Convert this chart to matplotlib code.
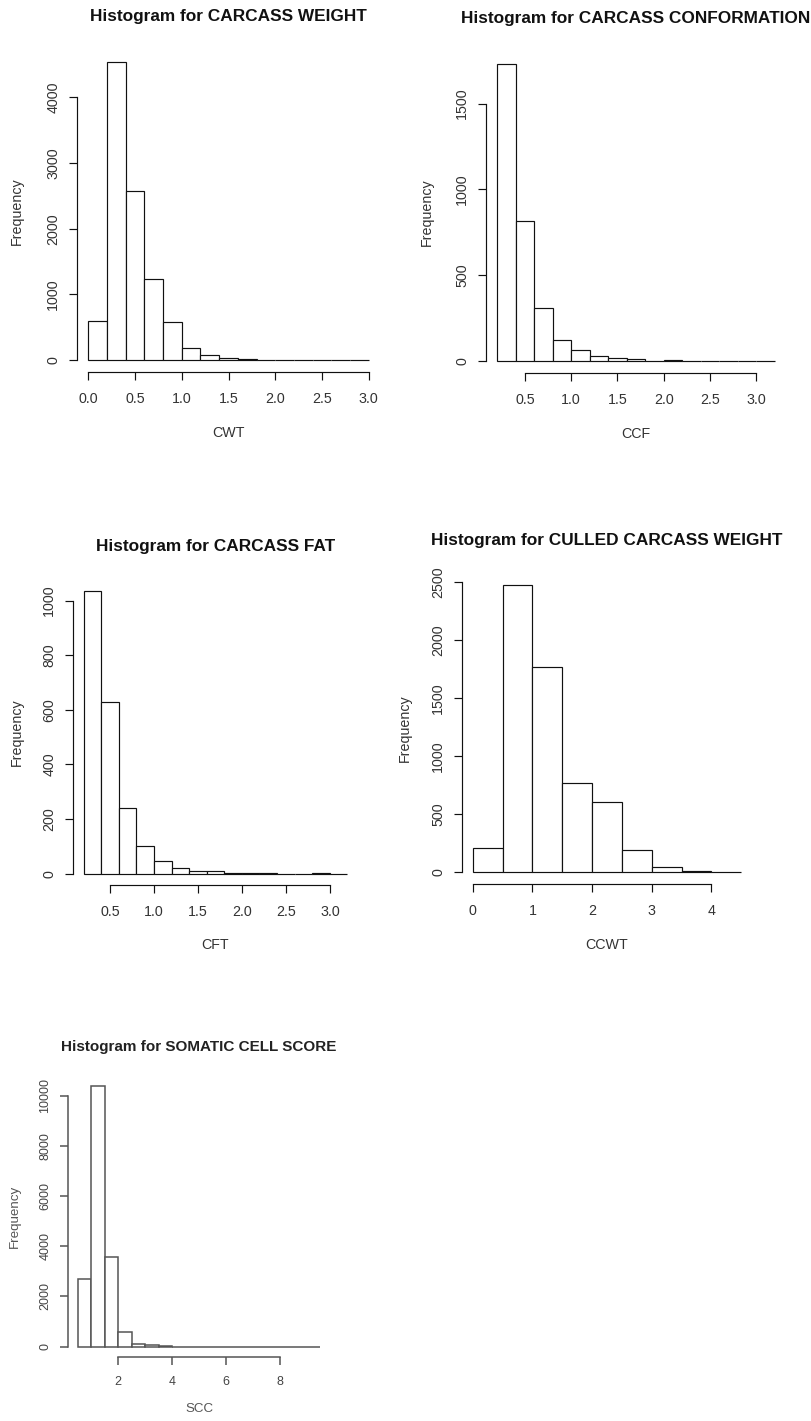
import numpy as np
import matplotlib
matplotlib.use("Agg")
import matplotlib.pyplot as plt

plt.rcParams["font.family"] = ["Liberation Sans", "DejaVu Sans"]

# ---- data ----
cwt_breaks = [0.0, 0.2, 0.4, 0.6, 0.8, 1.0, 1.2, 1.4, 1.6, 1.8, 2.0, 2.2, 2.4, 2.6, 2.8, 3.0]
cwt_counts = [600, 4540, 2575, 1230, 575, 190, 78, 25, 10, 2, 1, 0, 0, 0, 0]

ccf_breaks = [0.2, 0.4, 0.6, 0.8, 1.0, 1.2, 1.4, 1.6, 1.8, 2.0, 2.2, 2.4, 2.6, 2.8, 3.0, 3.2]
ccf_counts = [1731, 817, 309, 125, 62, 31, 20, 10, 0, 4, 0, 0, 0, 0, 0]

cft_breaks = [0.2, 0.4, 0.6, 0.8, 1.0, 1.2, 1.4, 1.6, 1.8, 2.0, 2.2, 2.4, 2.6, 2.8, 3.0, 3.2]
cft_counts = [1034, 630, 242, 100, 46, 22, 11, 11, 3, 3, 3, 0, 0, 3, 0]

ccwt_breaks = [0.0, 0.5, 1.0, 1.5, 2.0, 2.5, 3.0, 3.5, 4.0, 4.5]
ccwt_counts = [207, 2482, 1770, 772, 605, 193, 43, 12, 1]

scc_breaks = [0.5, 1.0, 1.5, 2.0, 2.5, 3.0, 3.5, 4.0, 4.5, 5.0,
              5.5, 6.0, 6.5, 7.0, 7.5, 8.0, 8.5, 9.0, 9.5]
scc_counts = [2700, 10370, 3565, 590, 120, 45, 4, 2, 1, 0, 0, 0, 0, 0, 0, 0, 0, 1]

cwt_xticks = [0.0, 0.5, 1.0, 1.5, 2.0, 2.5, 3.0]
ccf_xticks = [0.5, 1.0, 1.5, 2.0, 2.5, 3.0]
cft_xticks = [0.5, 1.0, 1.5, 2.0, 2.5, 3.0]
ccwt_xticks = [0, 1, 2, 3, 4]
scc_xticks = [2, 4, 6, 8]

cwt_yticks = [0, 1000, 2000, 3000, 4000]
ccf_yticks = [0, 500, 1000, 1500]
cft_yticks = [0, 200, 400, 600, 800, 1000]
ccwt_yticks = [0, 500, 1000, 1500, 2000, 2500]
scc_yticks = [0, 2000, 4000, 6000, 8000, 10000]

W, H = 811, 1421
fig = plt.figure(figsize=(W / 100, H / 100), dpi=100)


def px(x, y):
    return x / W, 1 - y / H


def r_hist(box, breaks, counts, xticks, yticks, xfmt,
           color="#111111", txt="#333333", fs=10.3, lw=0.85):
    l, r, t, b = box
    ax = fig.add_axes([l / W, 1 - b / H, (r - l) / W, (b - t) / H])
    breaks = np.asarray(breaks)
    ax.bar(breaks[:-1], counts, width=np.diff(breaks), align="edge",
           facecolor="white", edgecolor=color, linewidth=lw)
    # R default: 4% extension of the data range
    dx = (breaks[-1] - breaks[0]) * 0.04
    dy = max(counts) * 0.04
    ax.set_xlim(breaks[0] - dx, breaks[-1] + dx)
    ax.set_ylim(-dy, max(counts) + dy)
    for s in ["top", "right"]:
        ax.spines[s].set_visible(False)
    ax.spines["left"].set_bounds(yticks[0], yticks[-1])
    ax.spines["bottom"].set_bounds(xticks[0], xticks[-1])
    for s in ["left", "bottom"]:
        ax.spines[s].set_color(color)
        ax.spines[s].set_linewidth(lw)
    ax.set_xticks(xticks)
    ax.set_xticklabels([xfmt.format(v) for v in xticks])
    ax.set_yticks(yticks)
    ax.set_yticklabels([str(v) for v in yticks], rotation=90, va="center")
    ax.tick_params(length=6, width=lw, color=color, labelsize=fs,
                   labelcolor=txt)
    ax.tick_params(axis="x", pad=8.5)
    ax.tick_params(axis="y", pad=6)
    return ax, (l + r) / 2, (t + b) / 2


panels = [
    ((77, 380, 50, 372), cwt_breaks, cwt_counts, cwt_xticks, cwt_yticks, "{:.1f}",
     "Histogram for CARCASS WEIGHT", "CWT", 16.7, 433, 17.3),
    ((486, 786, 52, 373), ccf_breaks, ccf_counts, ccf_xticks, ccf_yticks, "{:.1f}",
     "Histogram for CARCASS CONFORMATION", "CCF", 18.3, 434, 426.7),
    ((73, 358, 580, 885), cft_breaks, cft_counts, cft_xticks, cft_yticks, "{:.1f}",
     "Histogram for CARCASS FAT", "CFT", 546.7, 945, 16.7),
    ((462, 752, 573, 884), ccwt_breaks, ccwt_counts, ccwt_xticks, ccwt_yticks, "{:d}",
     "Histogram for CULLED CARCASS WEIGHT", "CCWT", 540, 945, 405),
]

for box, br, ct, xt, yt, fmt, title, xl, ty, xly, yly in panels:
    ax, cx, cy = r_hist(box, br, ct, xt, yt, fmt)
    fig.text(*px(cx, ty), title, ha="center", va="center",
             fontsize=12.4, fontweight="bold", color="#111111")
    fig.text(*px(cx, xly), xl, ha="center", va="center",
             fontsize=10.3, color="#333333")
    fig.text(*px(yly, cy), "Frequency", ha="center", va="center",
             rotation=90, fontsize=10.3, color="#333333")

# somatic cell score panel (smaller, softer rendering in the reference)
box = (68, 330, 1076, 1357)
ax, cx, cy = r_hist(box, scc_breaks, scc_counts, scc_xticks, scc_yticks, "{:d}",
                    color="#555555", txt="#444444", fs=9.0, lw=1.1)
ax.tick_params(axis="x", pad=7.5)
fig.text(*px(cx, 1046.7), "Histogram for SOMATIC CELL SCORE", ha="center",
         va="center", fontsize=11.0, fontweight="bold", color="#222222")
fig.text(*px(cx, 1409), "SCC", ha="center", va="center",
         fontsize=9.6, color="#555555")
fig.text(*px(15, cy), "Frequency", ha="center", va="center",
         rotation=90, fontsize=9.6, color="#555555")

fig.savefig("out.png", dpi=100)
